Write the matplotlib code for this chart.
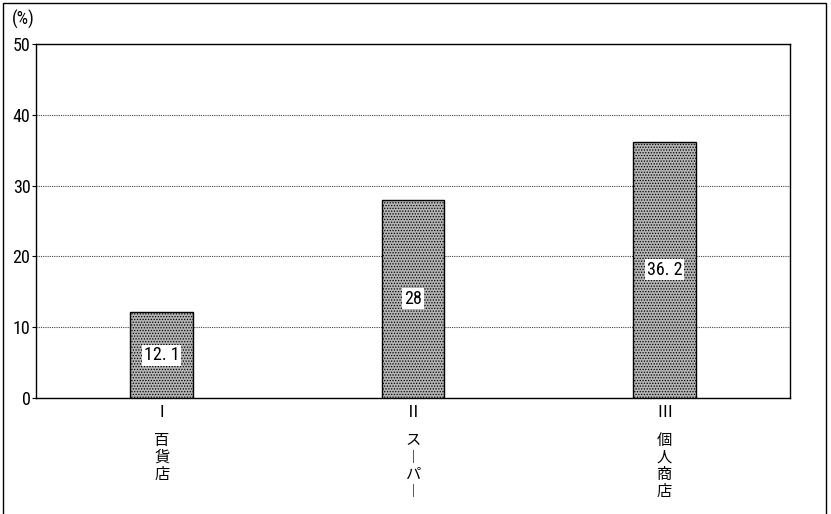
import matplotlib.pyplot as plt
from matplotlib.patches import Rectangle
from matplotlib import font_manager
import numpy as np

avail = {f.name for f in font_manager.fontManager.ttflist}
narrow = [f for f in ['Liberation Sans Narrow', 'DejaVu Sans Condensed', 'Roboto Condensed']
          if f in avail]
plt.rcParams['font.family'] = narrow + ['DejaVu Sans', 'Noto Sans CJK JP']
plt.rcParams['font.stretch'] = 'condensed'
plt.rcParams['hatch.color'] = '#555555'
plt.rcParams['hatch.linewidth'] = 0.6

numerals = ['Ⅰ', 'Ⅱ', 'Ⅲ']
names = ['百貨店', 'スーパー', '個人商店']
values = [12.1, 28, 36.2]
labels = ['12. 1', '28', '36. 2']

fig = plt.figure(figsize=(8.31, 5.14), dpi=100)
ax = fig.add_axes([0.0433, 0.2257, 0.9074, 0.6887])

x = np.arange(len(values))
ax.bar(x, values, width=0.25, color='#b4b4b4', edgecolor='black', linewidth=1.0,
       hatch='......', zorder=3)
for xi, v, lab in zip(x, values, labels):
    ax.text(xi, v / 2, lab, ha='center', va='center', fontsize=13, zorder=4,
            bbox=dict(facecolor='white', edgecolor='none', pad=1.2))

ax.set_xlim(-0.5, 2.5)
ax.set_ylim(0, 50)
ax.set_yticks([0, 10, 20, 30, 40, 50])
ax.tick_params(axis='y', labelsize=13, length=3, pad=1)
ax.set_xticks(x)
ax.set_xticklabels(numerals, fontsize=12, family=['Noto Sans CJK JP'])
ax.tick_params(axis='x', length=0, pad=4)
ax.yaxis.grid(True, linestyle=(0, (1, 1)), color='#444444', linewidth=0.8)
for s in ax.spines.values():
    s.set_linewidth(1.0)

for xi, nm in zip(x, names):
    vert = '\n'.join(nm.replace('ー', '︱'))
    ax.text(xi, -0.095, vert, transform=ax.get_xaxis_transform(), ha='center', va='top',
            fontsize=11, linespacing=1.0, family=['Noto Sans CJK JP', 'DejaVu Sans'])

fig.text(0.014, 0.963, '(%)', fontsize=13, ha='left', va='center')
fig.patches.append(Rectangle((3 / 831, -0.01), 823 / 831, 1 - 3 / 514 + 0.01,
                             transform=fig.transFigure, fill=False,
                             edgecolor='black', linewidth=1.0))

fig.savefig('out.png', dpi=100)
